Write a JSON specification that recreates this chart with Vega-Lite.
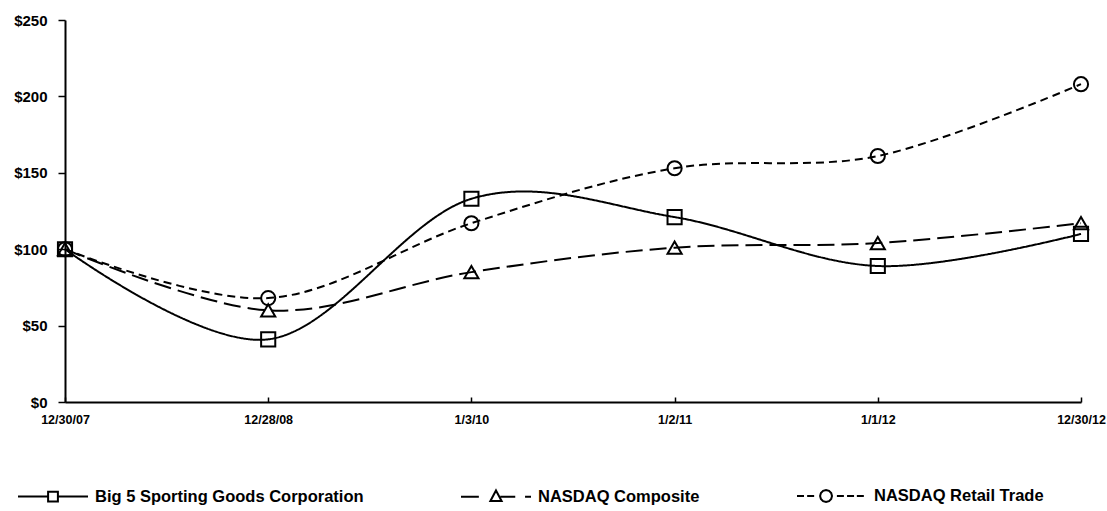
{
  "$schema": "https://vega.github.io/schema/vega-lite/v6.json",
  "autosize": {"type": "none"},
  "width": 1016,
  "height": 382,
  "padding": {"left": 65, "top": 20, "right": 26, "bottom": 109},
  "background": "white",
  "config": {
    "view": {"stroke": null},
    "font": "Liberation Sans",
    "axis": {"grid": false, "domainColor": "black", "tickColor": "black", "labelColor": "black", "labelFont": "Liberation Sans", "labelFontWeight": "bold", "title": null}
  },
  "data": {
    "values": [
      {"date": "12/30/07", "series": "Big 5 Sporting Goods Corporation", "value": 100},
      {"date": "12/28/08", "series": "Big 5 Sporting Goods Corporation", "value": 41},
      {"date": "1/3/10", "series": "Big 5 Sporting Goods Corporation", "value": 133},
      {"date": "1/2/11", "series": "Big 5 Sporting Goods Corporation", "value": 121},
      {"date": "1/1/12", "series": "Big 5 Sporting Goods Corporation", "value": 89},
      {"date": "12/30/12", "series": "Big 5 Sporting Goods Corporation", "value": 110},
      {"date": "12/30/07", "series": "NASDAQ Composite", "value": 100},
      {"date": "12/28/08", "series": "NASDAQ Composite", "value": 60},
      {"date": "1/3/10", "series": "NASDAQ Composite", "value": 85},
      {"date": "1/2/11", "series": "NASDAQ Composite", "value": 101},
      {"date": "1/1/12", "series": "NASDAQ Composite", "value": 104},
      {"date": "12/30/12", "series": "NASDAQ Composite", "value": 117},
      {"date": "12/30/07", "series": "NASDAQ Retail Trade", "value": 100},
      {"date": "12/28/08", "series": "NASDAQ Retail Trade", "value": 68},
      {"date": "1/3/10", "series": "NASDAQ Retail Trade", "value": 117},
      {"date": "1/2/11", "series": "NASDAQ Retail Trade", "value": 153},
      {"date": "1/1/12", "series": "NASDAQ Retail Trade", "value": 161},
      {"date": "12/30/12", "series": "NASDAQ Retail Trade", "value": 208}
    ]
  },
  "encoding": {
    "x": {
      "field": "date", "type": "ordinal", "sort": null,
      "scale": {"type": "point", "padding": 0},
      "axis": {"labelAngle": 0, "labelFontSize": 12.5, "domainWidth": 2, "tickSize": -5, "tickWidth": 1.5, "labelPadding": 16}
    },
    "y": {
      "field": "value", "type": "quantitative",
      "scale": {"domain": [0, 250], "nice": false},
      "axis": {"values": [0, 50, 100, 150, 200, 250], "format": "$,.0f", "labelFontSize": 15, "domainWidth": 2, "tickSize": 7, "tickWidth": 1.5, "labelPadding": 11}
    }
  },
  "layer": [
    {
      "mark": {"type": "line", "color": "black", "strokeWidth": 2, "interpolate": "cardinal"},
      "encoding": {
        "strokeDash": {
          "field": "series", "type": "nominal",
          "scale": {"domain": ["Big 5 Sporting Goods Corporation", "NASDAQ Composite", "NASDAQ Retail Trade"], "range": [[1, 0], [17, 7], [8, 5]]},
          "legend": null
        }
      }
    },
    {
      "mark": {"type": "point", "filled": false, "color": "black", "strokeWidth": 2, "size": 200, "opacity": 1},
      "encoding": {
        "shape": {
          "field": "series", "type": "nominal",
          "scale": {"domain": ["Big 5 Sporting Goods Corporation", "NASDAQ Composite", "NASDAQ Retail Trade"], "range": ["square", "triangle-up", "circle"]},
          "legend": null
        }
      }
    },
    {
      "transform": [{"filter": "false"}],
      "mark": {"type": "point", "filled": false, "color": "black", "strokeWidth": 2, "opacity": 1},
      "encoding": {
        "shape": {
          "field": "series", "type": "nominal",
          "scale": {
            "domain": ["Big 5 Sporting Goods Corporation", "NASDAQ Composite", "NASDAQ Retail Trade"],
            "range": [
              "M-1,0H-0.14M0.14,0H1M-0.14,-0.14H0.14V0.14H-0.14Z",
              "M-1,0H-0.49M0.12,0H0.55M0.83,0H1M0,-0.18L0.16,0.12H-0.16Z",
              "M-1,0H-0.8M-0.71,0H-0.51M0.14,0H0.34M0.43,0H0.63M0.71,0H0.91M0,0L-0.023,0.085L-0.085,0.147L-0.17,0.17L-0.255,0.147L-0.317,0.085L-0.34,0L-0.317,-0.085L-0.255,-0.147L-0.17,-0.17L-0.085,-0.147L-0.023,-0.085Z"
            ]
          },
          "legend": {
            "title": null, "orient": "none", "direction": "horizontal", "columns": 3,
            "legendX": -48, "legendY": 440, "padding": 0,
            "symbolSize": 4900, "symbolStrokeWidth": 2, "symbolStrokeColor": "black", "symbolFillColor": "transparent",
            "labelFont": "Liberation Sans", "labelFontWeight": "bold", "labelFontSize": 16.5, "labelColor": "black",
            "labelOffset": 6, "columnPadding": 93, "labelLimit": 400
          }
        }
      }
    }
  ],
  "resolve": {"scale": {"shape": "independent"}, "legend": {"shape": "independent"}}
}
